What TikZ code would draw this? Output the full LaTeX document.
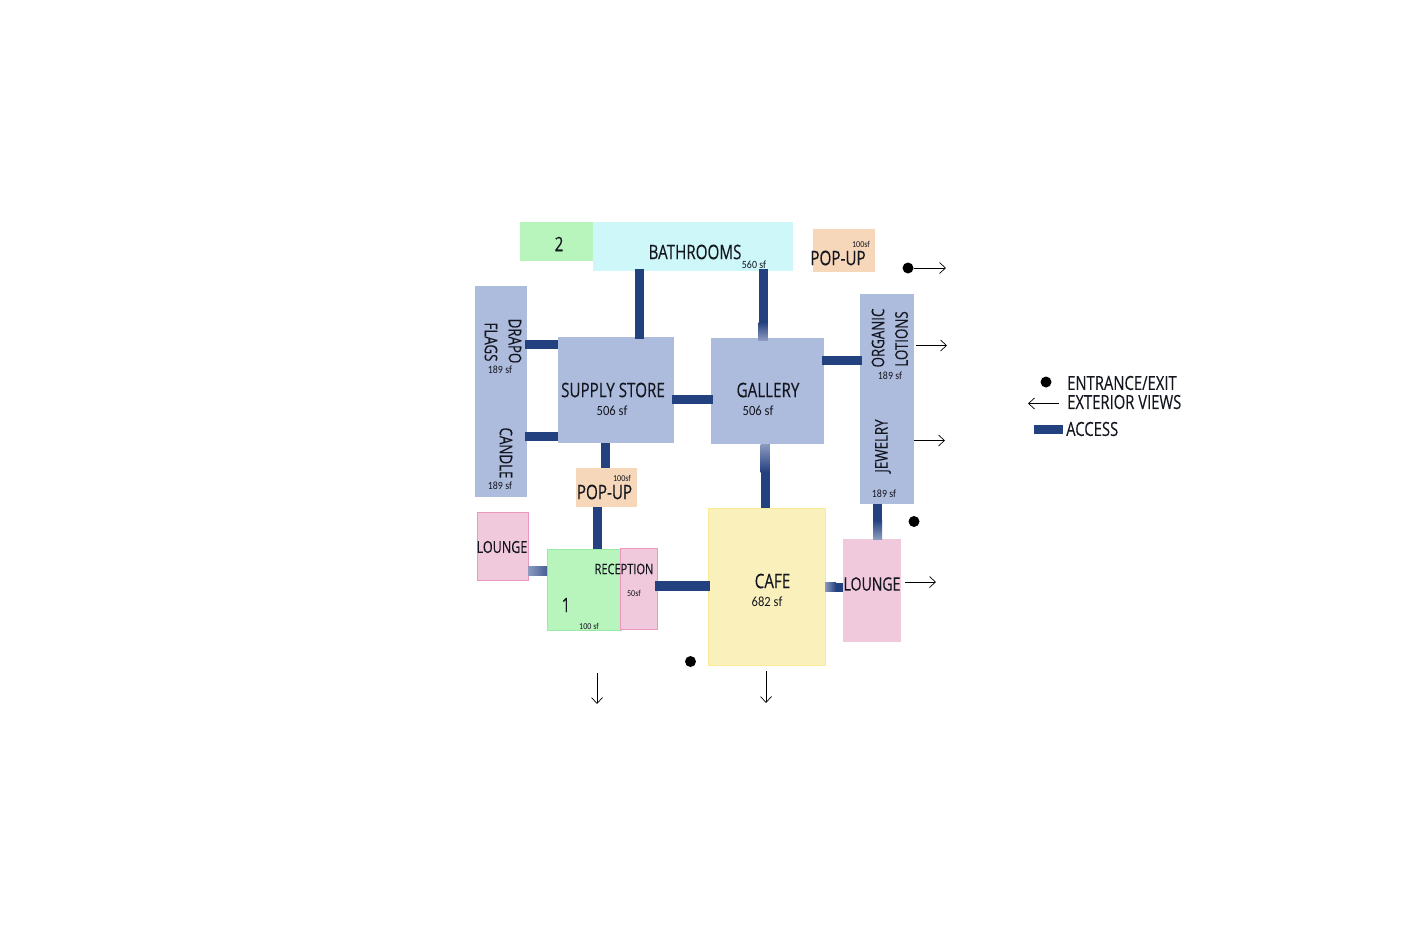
\documentclass[tikz,border=0pt]{standalone}
\usepackage{fontspec}
\setmainfont[FakeStretch=0.76,FakeBold=0.2]{Open Sans}
\newfontfamily\handfont[FakeStretch=0.9]{Carlito}
\definecolor{roomblue}{HTML}{ADBBDC}
\definecolor{bathcyan}{HTML}{CDF7F8}
\definecolor{roomgreen}{HTML}{B8F5BD}
\definecolor{greenedge}{HTML}{9BE8A6}
\definecolor{popuporange}{HTML}{F6D7BA}
\definecolor{loungepink}{HTML}{F1C9DD}
\definecolor{pinkedge}{HTML}{EC97C0}
\definecolor{cafeyellow}{HTML}{FAF0BC}
\definecolor{cafeedge}{HTML}{F9EA95}
\definecolor{accessblue}{HTML}{23417F}
\definecolor{accessfade}{HTML}{8C9ABF}
\definecolor{labelink}{HTML}{14161F}
\usetikzlibrary{arrows.meta,positioning}
\tikzset{
    room/.style 2 args={minimum width=#1pt, minimum height=#2pt, inner sep=0pt, outer sep=0pt},
    access/.style={draw=accessblue, line width=9pt, shorten <=-2pt, shorten >=-2pt},
    viewarrow/.style={draw=black, line width=0.7pt, -{Straight Barb[length=6pt,width=11pt]}},
    marker/.style={circle, fill=black, inner sep=0pt, minimum size=11pt},
    biglabel/.style={font=\fontsize{20}{20}\selectfont, text=labelink, inner sep=0pt},
    midlabel/.style={font=\fontsize{17.5}{18}\selectfont, text=labelink, inner sep=0pt},
    smalllabel/.style={font=\fontsize{14.5}{15}\selectfont, text=labelink, inner sep=0pt},
    bigarea/.style={font=\handfont\fontsize{14}{14}\selectfont, text=labelink, inner sep=0pt},
    arealabel/.style={font=\handfont\fontsize{11}{11}\selectfont, text=labelink, inner sep=0pt},
    tinylabel/.style={font=\handfont\fontsize{9}{9}\selectfont, text=labelink, inner sep=0pt}
}
\begin{document}
\begin{tikzpicture}[x=1pt,y=-1pt]
    \useasboundingbox (0,0) rectangle (1418,945);

    % Rooms
    \node[room={73}{39}, fill=roomgreen] (greentwo) at (556.5,241.5) {};
    \node[room={200}{49}, fill=bathcyan] (bath) at (693,246.5) {};
    \node[room={62}{43}, fill=popuporange] (popuptop) at (844,250.5) {};
    \node[room={52}{211}, fill=roomblue] (drapo) at (501,391.5) {};
    \node[room={116}{106}, fill=roomblue] (supply) at (616,390) {};
    \node[room={113}{106}, fill=roomblue] (gallery) at (767.5,391) {};
    \node[room={54}{210}, fill=roomblue] (organic) at (887,399) {};
    \node[room={61}{39}, fill=popuporange] (popupmid) at (606.5,487.5) {};
    \node[room={51}{68}, fill=loungepink, draw=pinkedge] (loungeleft) at (502.5,546) {};
    \node[room={74}{81}, fill=roomgreen, draw=greenedge] (greenone) at (584,589.5) {};
    \node[room={37}{81}, fill=loungepink, draw=pinkedge] (reception) at (638.5,588.5) {};
    \node[room={117}{157}, fill=cafeyellow, draw=cafeedge] (cafe) at (766.5,586.5) {};
    \node[room={58}{103}, fill=loungepink] (loungeright) at (872,590.5) {};

    % Access
    \draw[access] ([xshift=-54pt]bath.south) -- ([xshift=-54pt]bath.south |- supply.north);
    \draw[access] ([xshift=70pt]bath.south) -- ([xshift=70pt]bath.south |- gallery.north);
    \draw[access, shorten >=0pt] ([yshift=47pt]drapo.east) -- ([yshift=47pt]drapo.east -| supply.west);
    \draw[access, shorten >=0pt] ([yshift=-44.5pt]drapo.east) -- ([yshift=-44.5pt]drapo.east -| supply.west);
    \draw[access] ([yshift=-9pt]supply.east) -- ([yshift=-9pt]supply.east -| gallery.west);
    \draw[access] ([yshift=31pt]gallery.east) -- ([yshift=31pt]gallery.east -| organic.west);
    \draw[access, shorten <=0pt, shorten >=0pt] ([xshift=-10.5pt]supply.south) -- ([xshift=-10.5pt]supply.south |- popupmid.north);
    \draw[access, shorten <=0pt, shorten >=0pt] ([xshift=-9pt]popupmid.south) -- ([xshift=-9pt]popupmid.south |- greenone.north);
    \draw[access, shorten <=0pt, shorten >=0pt] ([xshift=-2.5pt]gallery.south) -- ([xshift=-2.5pt]gallery.south |- cafe.north);
    \draw[access, shorten <=0pt, shorten >=0pt] ([xshift=-9.5pt]organic.south) -- ([xshift=-9.5pt]organic.south |- loungeright.north);
    \draw[access, line width=10pt] ([yshift=2.5pt]reception.east) -- ([yshift=2.5pt]reception.east -| cafe.west);
    \draw[access, shorten <=0pt, shorten >=0pt] ([yshift=-25pt]loungeleft.east) -- ([yshift=-25pt]loungeleft.east -| greenone.west);
    \draw[access, shorten <=0pt, shorten >=0pt] ([yshift=-0.5pt]cafe.east) -- ([yshift=-0.5pt]cafe.east -| loungeright.west);

    % Faded ends
    \shade[top color=accessblue, bottom color=accessfade] (758.5,322) rectangle (767.5,340);
    \shade[top color=accessfade, bottom color=accessblue] (760.5,444) rectangle (769.5,472);
    \shade[top color=accessblue, bottom color=accessfade] (873,520) rectangle (882,539);
    \shade[left color=accessfade, right color=accessblue!65!accessfade] (528,566.5) rectangle (547,575.5);
    \shade[left color=accessfade, right color=accessblue] (825,582.5) rectangle (836,591.5);

    % Labels
    \node[biglabel] (twolabel) at (559,244) {2};
    \node[biglabel] (bathlabel) at (695,252) {BATHROOMS};
    \node[arealabel] (batharea) at (754,265) {560 sf};
    \node[biglabel] (poptoplabel) at (838,258) {POP-UP};
    \node[tinylabel] (poptoparea) at (861,244) {100sf};
    \node[midlabel, rotate=-90] (drapolabel) at (515,341) {DRAPO};
    \node[midlabel, rotate=-90] (flagslabel) at (491,342) {FLAGS};
    \node[arealabel] (drapoarea) at (500,370) {189 sf};
    \node[midlabel, rotate=-90] (candlelabel) at (506,453) {CANDLE};
    \node[arealabel] (candlearea) at (500,486) {189 sf};
    \node[biglabel] (supplylabel) at (613,390) {SUPPLY STORE};
    \node[bigarea] (supplyarea) at (612,411) {506 sf};
    \node[biglabel] (gallerylabel) at (768,390) {GALLERY};
    \node[bigarea] (galleryarea) at (758,411) {506 sf};
    \node[midlabel, rotate=90] (organiclabel) at (878,338) {ORGANIC};
    \node[midlabel, rotate=90] (lotionslabel) at (901.5,339) {LOTIONS};
    \node[arealabel] (organicarea) at (890,376) {189 sf};
    \node[midlabel, rotate=90] (jewelrylabel) at (883,446) {JEWELRY};
    \node[arealabel] (jewelryarea) at (884,494) {189 sf};
    \node[biglabel] (popmidlabel) at (604.5,492) {POP-UP};
    \node[tinylabel] (popmidarea) at (622,478) {100sf};
    \node[midlabel, font=\fontsize{16.5}{17}\selectfont] (loungeleftlabel) at (502,547) {LOUNGE};
    \node[smalllabel] (receptionlabel) at (624,569) {RECEPTION};
    \node[tinylabel] (receptionarea) at (634,593) {50sf};
    \node[biglabel] (onelabel) at (566,605) {1};
    \node[tinylabel] (onearea) at (589,626) {100 sf};
    \node[biglabel] (cafelabel) at (772.5,581) {CAFE};
    \node[bigarea] (cafearea) at (767,602) {682 sf};
    \node[biglabel, font=\fontsize{18.5}{19}\selectfont] (loungerightlabel) at (872,584) {LOUNGE};

    % Entrances
    \node[marker] (doortop) at (908,268) {};
    \node[marker] (doorright) at (914,521.5) {};
    \node[marker] (doorbottom) at (690.5,661.5) {};

    % Exterior views
    \coordinate (viewtop) at (946,268);
    \coordinate (vieworganica) at (916,345.5);
    \coordinate (vieworganicb) at (947,345.5);
    \coordinate (viewjewelrya) at (914,440.5);
    \coordinate (viewjewelryb) at (945,440.5);
    \coordinate (viewloungea) at (905,582);
    \coordinate (viewloungeb) at (936,582);
    \coordinate (viewonea) at (597,673);
    \coordinate (viewoneb) at (597,704);
    \coordinate (viewcafea) at (766,671);
    \coordinate (viewcafeb) at (766,703);
    \draw[viewarrow] (doortop) -- (viewtop);
    \draw[viewarrow] (vieworganica) -- (vieworganicb);
    \draw[viewarrow] (viewjewelrya) -- (viewjewelryb);
    \draw[viewarrow] (viewloungea) -- (viewloungeb);
    \draw[viewarrow] (viewonea) -- (viewoneb);
    \draw[viewarrow] (viewcafea) -- (viewcafeb);

    % Legend
    \node[marker] (keydoor) at (1046,382) {};
    \node[biglabel, font=\fontsize{19.5}{20}\selectfont, anchor=west] (keydoorlabel) at (1067,383) {ENTRANCE/EXIT};
    \node[biglabel, font=\fontsize{19.5}{20}\selectfont, anchor=west] (keyviewlabel) at (1067,402) {EXTERIOR VIEWS};
    \node[biglabel, font=\fontsize{19.5}{20}\selectfont, anchor=west] (keyaccesslabel) at (1066,429) {ACCESS};
    \coordinate (keyviewa) at (1059,403.5);
    \coordinate (keyviewb) at (1028,403.5);
    \coordinate (keyaccessa) at (1034,429.5);
    \coordinate (keyaccessb) at (1063,429.5);
    \draw[viewarrow] (keyviewa) -- (keyviewb);
    \draw[access, shorten <=0pt, shorten >=0pt] (keyaccessa) -- (keyaccessb);
\end{tikzpicture}
\end{document}
